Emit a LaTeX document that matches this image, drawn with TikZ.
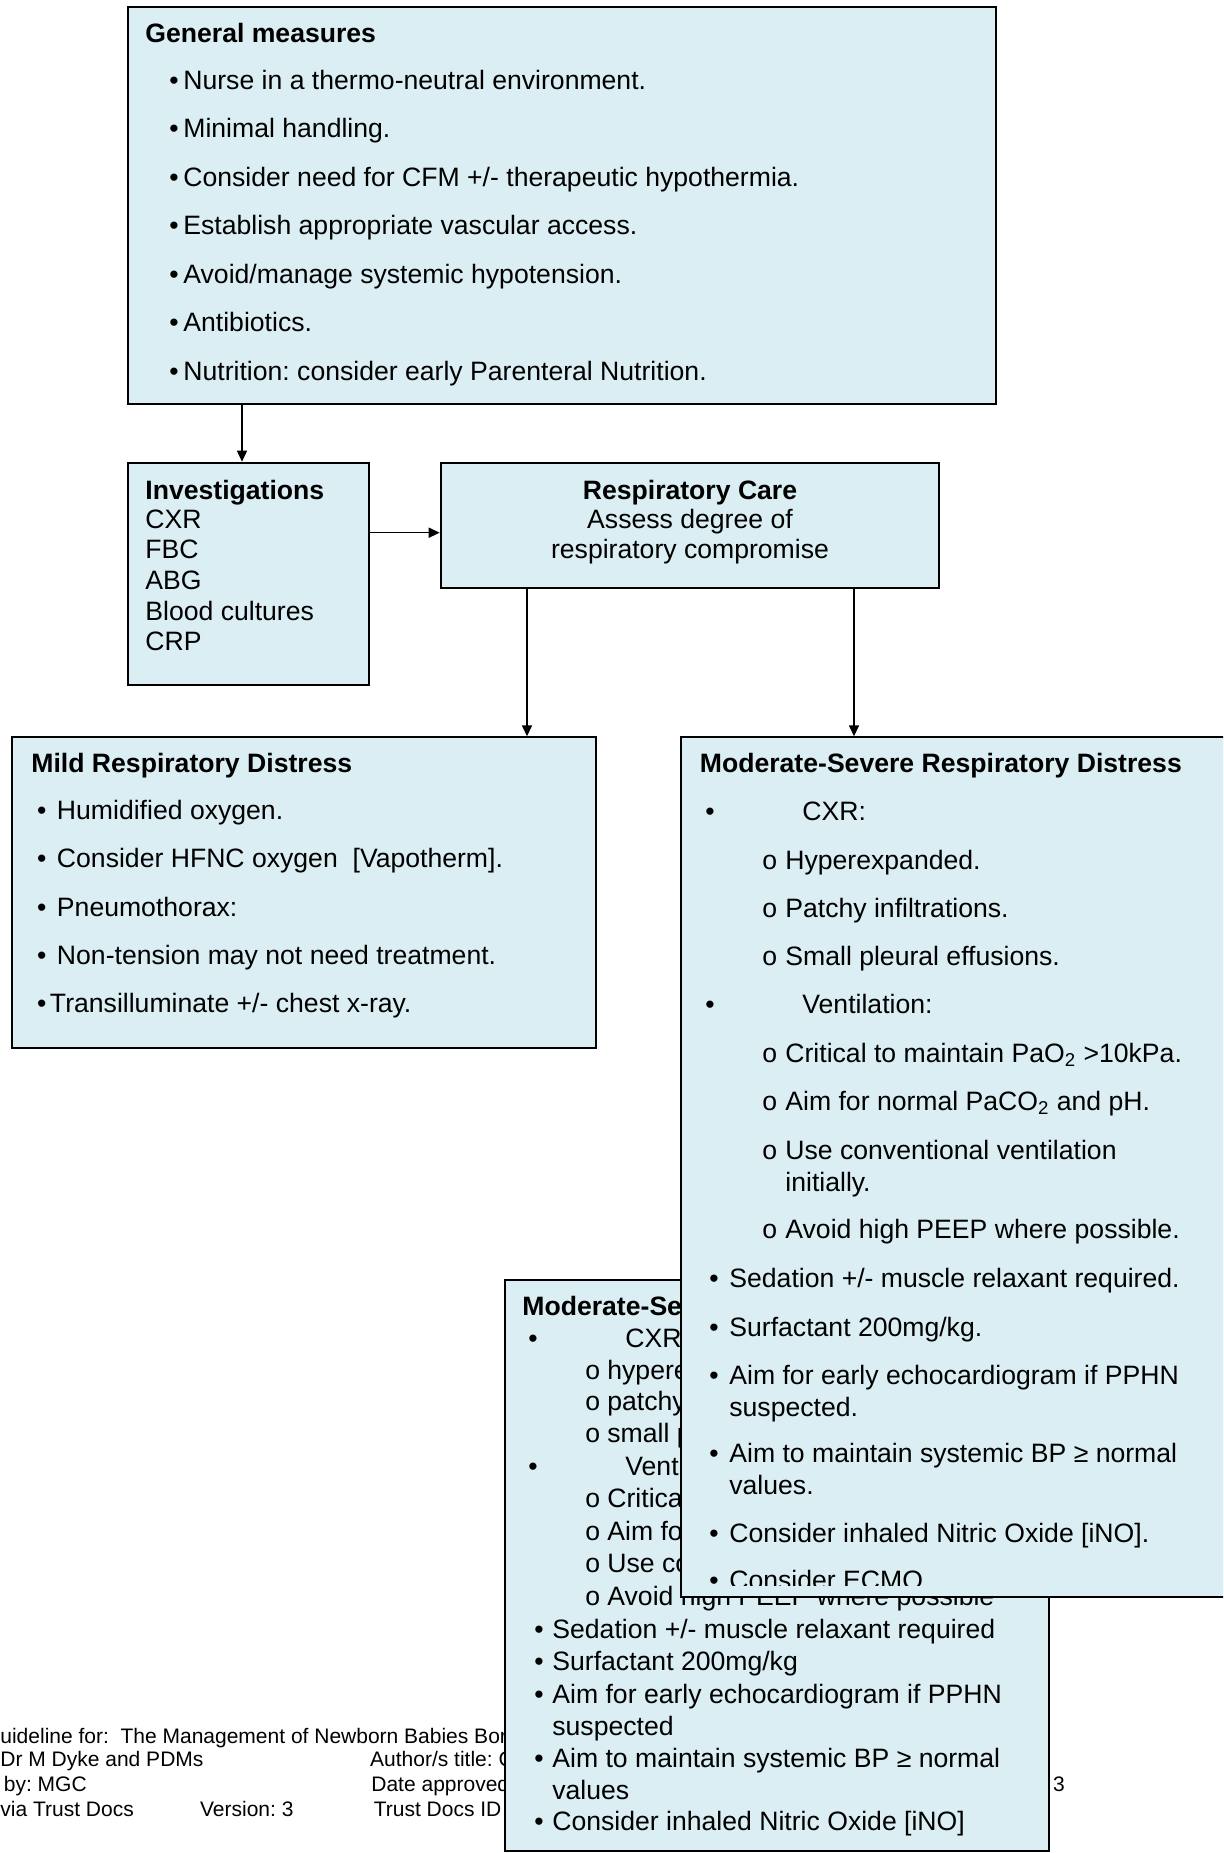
\documentclass[tikz,border=0pt]{standalone}
\usepackage{fontspec}
\setmainfont{Liberation Sans}
\usetikzlibrary{arrows.meta,fit}
\definecolor{boxfill}{RGB}{218,238,243}
\frenchspacing
\begin{document}
\begin{tikzpicture}[x=0.5pt,y=-0.5pt,
  box/.style={draw=black, line width=1pt, fill=boxfill, inner sep=0pt},
  txt/.style={anchor=base west, inner sep=0pt, font=\fontsize{13.3}{16}\selectfont},
  btxt/.style={anchor=base west, inner sep=0pt, font=\fontsize{13.3}{16}\selectfont\bfseries},
  ctxt/.style={anchor=base, inner sep=0pt, font=\fontsize{13.3}{16}\selectfont},
  cbtxt/.style={anchor=base, inner sep=0pt, font=\fontsize{13.3}{16}\selectfont\bfseries},
  ftxt/.style={anchor=base west, inner sep=0pt, font=\fontsize{10.5}{12}\selectfont},
  arr/.style={line width=0.75pt, -{Triangle[length=5.5pt,width=5pt]}}]
\useasboundingbox (0,0) rectangle (1223,1853);
\clip (0,0) rectangle (1223,1853);

% ---------- footer ----------
\node[ftxt] (f1) at (0,1743.3) {uideline for:~ The Management of Newborn Babies Born};
\node[ftxt] (f2) at (0,1766.9) {Dr M Dyke and PDMs};
\node[ftxt] (f3) at (3.5,1791.7) {by: MGC};
\node[ftxt] (f4) at (0,1816.5) {via Trust Docs};
\node[ftxt] (f5) at (199.7,1816.5) {Version: 3};
\node[ftxt] (f6) at (369.8,1766.9) {Author/s title: C};
\node[ftxt] (f7) at (371,1791.7) {Date approved};
\node[ftxt] (f8) at (373.4,1816.5) {Trust Docs ID};
\node[ftxt] (f9) at (1052.8,1791.7) {3};

% ---------- lower (older) box ----------
\node[box, fit={(504.5,1279.7) (1049,1851)}] (old) {};
\node[btxt] (o0) at (522,1315.2) {Moderate-Se};
\node[txt] (o1b) at (528,1347.1) {•};
\node[txt] (o1) at (625,1347.1) {CXR};
\node[txt] (o2b) at (585,1379) {o};
\node[txt] (o2) at (607,1379) {hyperex};
\node[txt] (o3b) at (585,1410.9) {o};
\node[txt] (o3) at (607,1410.9) {patchy i};
\node[txt] (o4b) at (585,1442.8) {o};
\node[txt] (o4) at (607,1442.8) {small pl};
\node[txt] (o5b) at (528,1475.9) {•};
\node[txt] (o5) at (625,1475.9) {Venti};
\node[txt] (o6b) at (585,1507.8) {o};
\node[txt] (o6) at (607,1507.8) {Critical};
\node[txt] (o7b) at (585,1540.9) {o};
\node[txt] (o7) at (607,1540.9) {Aim for};
\node[txt] (o8b) at (585,1572.8) {o};
\node[txt] (o8) at (607,1572.8) {Use con};
\node[txt] (o9b) at (585,1605.8) {o};
\node[txt] (o9) at (607,1605.8) {Avoid high PEEP where possible};
\node[txt] (o10b) at (534,1638.9) {•};
\node[txt] (o10) at (552,1638.9) {Sedation +/- muscle relaxant required};
\node[txt] (o11b) at (534,1670.9) {•};
\node[txt] (o11) at (552,1670.9) {Surfactant 200mg/kg};
\node[txt] (o12b) at (534,1703.9) {•};
\node[txt] (o12) at (552,1703.9) {Aim for early echocardiogram if PPHN};
\node[txt] (o13) at (552,1735.8) {suspected};
\node[txt] (o14b) at (534,1767.7) {•};
\node[txt] (o14) at (552,1767.7) {Aim to maintain systemic BP ≥ normal};
\node[txt] (o15) at (552,1799.5) {values};
\node[txt] (o16b) at (534,1830.5) {•};
\node[txt] (o16) at (552,1830.5) {Consider inhaled Nitric Oxide [iNO]};

% ---------- moderate-severe box ----------
\node[box, fit={(680.6,737.3) (1240,1597)}] (mod) {};
\begin{scope}
\clip (682,738) rectangle (1223,1585);
\node[btxt] (m0) at (699.5,772.5) {Moderate-Severe Respiratory Distress};
\node[txt] (m1b) at (705,820) {•};
\node[txt] (m1) at (802,820) {CXR:};
\node[txt] (m2b) at (762,869) {o};
\node[txt] (m2) at (785,869) {Hyperexpanded.};
\node[txt] (m3b) at (762,917) {o};
\node[txt] (m3) at (785,917) {Patchy infiltrations.};
\node[txt] (m4b) at (762,965.5) {o};
\node[txt] (m4) at (785,965.5) {Small pleural effusions.};
\node[txt] (m5b) at (705,1013.5) {•};
\node[txt] (m5) at (802,1013.5) {Ventilation:};
\node[txt] (m6b) at (762,1062.5) {o};
\node[txt] (m6) at (785,1062.5) {Critical to maintain PaO\textsubscript{2} >10kPa.};
\node[txt] (m7b) at (762,1110.5) {o};
\node[txt] (m7) at (785,1110.5) {Aim for normal PaCO\textsubscript{2} and pH.};
\node[txt] (m8b) at (762,1159.5) {o};
\node[txt] (m8) at (785,1159.5) {Use conventional ventilation};
\node[txt] (m9) at (785,1191.5) {initially.};
\node[txt] (m10b) at (762,1238.5) {o};
\node[txt] (m10) at (785,1238.5) {Avoid high PEEP where possible.};
\node[txt] (m11b) at (709,1287.5) {•};
\node[txt] (m11) at (729,1287.5) {Sedation +/- muscle relaxant required.};
\node[txt] (m12b) at (709,1336.5) {•};
\node[txt] (m12) at (729,1336.5) {Surfactant 200mg/kg.};
\node[txt] (m13b) at (709,1384.5) {•};
\node[txt] (m13) at (729,1384.5) {Aim for early echocardiogram if PPHN};
\node[txt] (m14) at (729,1416.5) {suspected.};
\node[txt] (m15b) at (709,1462.5) {•};
\node[txt] (m15) at (729,1462.5) {Aim to maintain systemic BP ≥ normal};
\node[txt] (m16) at (729,1494.5) {values.};
\node[txt] (m17b) at (709,1542.5) {•};
\node[txt] (m17) at (729,1542.5) {Consider inhaled Nitric Oxide [iNO].};
\node[txt] (m18b) at (709,1589.5) {•};
\node[txt] (m18) at (729,1589.5) {Consider ECMO.};
\end{scope}

% ---------- general measures ----------
\node[box, fit={(127.6,7) (996,403.5)}] (gen) {};
\node[btxt] (g0) at (145,42.5) {General measures};
\node[txt] (g1) at (169,89.5) {\makebox[7pt][l]{•}Nurse in a thermo-neutral environment.};
\node[txt] (g2) at (169,137.5) {\makebox[7pt][l]{•}Minimal handling.};
\node[txt] (g3) at (169,186) {\makebox[7pt][l]{•}Consider need for CFM +/- therapeutic hypothermia.};
\node[txt] (g4) at (169,234.5) {\makebox[7pt][l]{•}Establish appropriate vascular access.};
\node[txt] (g5) at (169,283.5) {\makebox[7pt][l]{•}Avoid/manage systemic hypotension.};
\node[txt] (g6) at (169,331.5) {\makebox[7pt][l]{•}Antibiotics.};
\node[txt] (g7) at (169,380.5) {\makebox[7pt][l]{•}Nutrition: consider early Parenteral Nutrition.};

% ---------- investigations ----------
\node[box, fit={(127.6,462.7) (368.7,685)}] (inv) {};
\node[btxt] (i0) at (145,499.5) {Investigations};
\node[txt] (i1) at (145,528.5) {CXR};
\node[txt] (i2) at (145,558.5) {FBC};
\node[txt] (i3) at (145,589.5) {ABG};
\node[txt] (i4) at (145,620) {Blood cultures};
\node[txt] (i5) at (145,650.5) {CRP};

% ---------- respiratory care ----------
\node[box, fit={(440.7,462.7) (939.4,588.3)}] (resp) {};
\node[cbtxt] (r0) at (690,499.5) {Respiratory Care};
\node[ctxt] (r1) at (690,528) {Assess degree of};
\node[ctxt] (r2) at (690,558) {respiratory compromise};

% ---------- mild ----------
\node[box, fit={(11.8,737.3) (595.5,1047.5)}] (mild) {};
\node[btxt] (d0) at (31,772.5) {Mild Respiratory Distress};
\node[txt] (d1) at (36.6,819.5) {\makebox[10pt][l]{•}Humidified oxygen.};
\node[txt] (d2) at (36.6,867.5) {\makebox[10pt][l]{•}Consider HFNC oxygen~ [Vapotherm].};
\node[txt] (d3) at (36.6,916.5) {\makebox[10pt][l]{•}Pneumothorax:};
\node[txt] (d4) at (36.6,964.5) {\makebox[10pt][l]{•}Non-tension may not need treatment.};
\node[txt] (d5) at (36.6,1012.5) {\makebox[6.5pt][l]{•}Transilluminate +/- chest x-ray.};

% ---------- connectors ----------
\coordinate (p1) at (242,0);
\coordinate (p2) at (0,532.7);
\coordinate (p3) at (527,0);
\coordinate (p4) at (854,0);
\draw[arr] (gen.south -| p1) -- (inv.north -| p1);
\draw[arr] (inv.east |- p2) -- (resp.west |- p2);
\draw[arr] (resp.south -| p3) -- (mild.north -| p3);
\draw[arr] (resp.south -| p4) -- (mod.north -| p4);
\end{tikzpicture}
\end{document}
